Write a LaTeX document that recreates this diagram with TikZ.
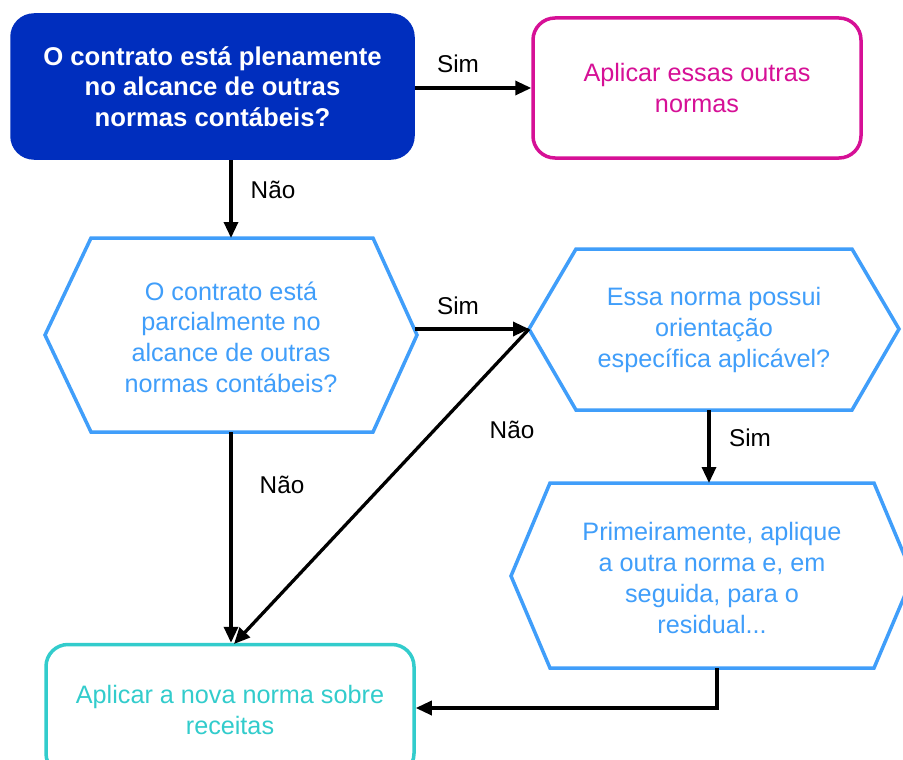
\documentclass[tikz,border=0pt]{standalone}
\usepackage{fontspec}
\setmainfont{Liberation Sans}
\usetikzlibrary{arrows.meta,calc}
\definecolor{dkblue}{RGB}{0,46,190}
\definecolor{magent}{RGB}{214,16,150}
\definecolor{ltblue}{RGB}{64,158,250}
\definecolor{tealc}{RGB}{50,204,204}
\tikzset{
  txt/.style={font=\fontsize{25.2}{30.7}\selectfont, align=center, inner sep=0pt},
  roundbox/.style={rectangle, rounded corners=22pt, line width=3.5pt, txt},
  hexline/.style={draw=ltblue, line width=3.5pt, line join=miter},
  arr/.style={draw=black, line width=3.3pt, -{Triangle[length=16pt,width=14pt]}},
  lbl/.style={font=\fontsize{24.3}{28}\selectfont, inner sep=0pt, text=black}
}
\begin{document}
\begin{tikzpicture}[x=1pt,y=-1pt]
\useasboundingbox[fill=white] (0,0) rectangle (903,760);

% boxes
\node[roundbox, fill=dkblue, draw=dkblue, text=white, font=\fontsize{25.7}{30.5}\selectfont\bfseries,
      minimum width=401pt, minimum height=143pt] (b1) at (212.5,86.5)
  {O contrato está plenamente\\no alcance de outras\\normas contábeis?};
\node[roundbox, draw=magent, text=magent, minimum width=328pt, minimum height=140pt] (b2) at (697,88)
  {Aplicar essas outras\\normas};
\node[roundbox, draw=tealc, text=tealc, minimum width=368pt, minimum height=131pt] (b3) at (230,710)
  {Aplicar a nova norma sobre\\receitas};

% hexagon 1
\coordinate (h1l) at (45,335);
\coordinate (h1top) at (231,238);
\coordinate (h1bot) at (231,432);
\coordinate (h1r) at (415,329);
\draw[hexline] (45,335) -- (91,238) -- (373,238) -- (417,335) -- (373,432) -- (91,432) -- cycle;
\node[txt, text=ltblue] (h1) at (231,337)
  {O contrato está\\parcialmente no\\alcance de outras\\normas contábeis?};

% hexagon 2
\coordinate (h2l) at (529,329);
\coordinate (h2bot) at (709,410);
\draw[hexline] (529,329) -- (576,249) -- (852,249) -- (899,329) -- (852,410) -- (576,410) -- cycle;
\node[txt, text=ltblue] (h2) at (714,330)
  {Essa norma possui\\orientação\\específica aplicável?};

% hexagon 3
\coordinate (h3top) at (709,483);
\coordinate (h3bot) at (717,668);
\draw[hexline] (511,576) -- (550,483) -- (874,483) -- (913,576) -- (874,668) -- (550,668) -- cycle;
\node[txt, text=ltblue] (h3) at (712,578)
  {Primeiramente, aplique\\a outra norma e, em\\seguida, para o\\residual...};

% connectors
\draw[arr] (b1.east |- b2.west) -- (b2.west);
\draw[arr] (b1.south -| h1top) -- (h1top);
\draw[arr] (h1bot) -- (b3.north -| h1bot);
\draw[arr] (h1r) -- (h2l);
\coordinate (dg) at (234,644);
\draw[arr] (h2l) -- (dg);
\draw[arr] (h2bot) -- (h3top);
\coordinate (elb) at (717,708);
\draw[arr] (h3bot) -- (elb) -- (b3.east |- elb);

% labels
\node[lbl] (l1) at (458,64) {Sim};
\node[lbl] (l2) at (273,190) {Não};
\node[lbl] (l3) at (458,306) {Sim};
\node[lbl] (l4) at (512,430) {Não};
\node[lbl] (l5) at (282,485) {Não};
\node[lbl] (l6) at (750,438) {Sim};
\end{tikzpicture}
\end{document}
